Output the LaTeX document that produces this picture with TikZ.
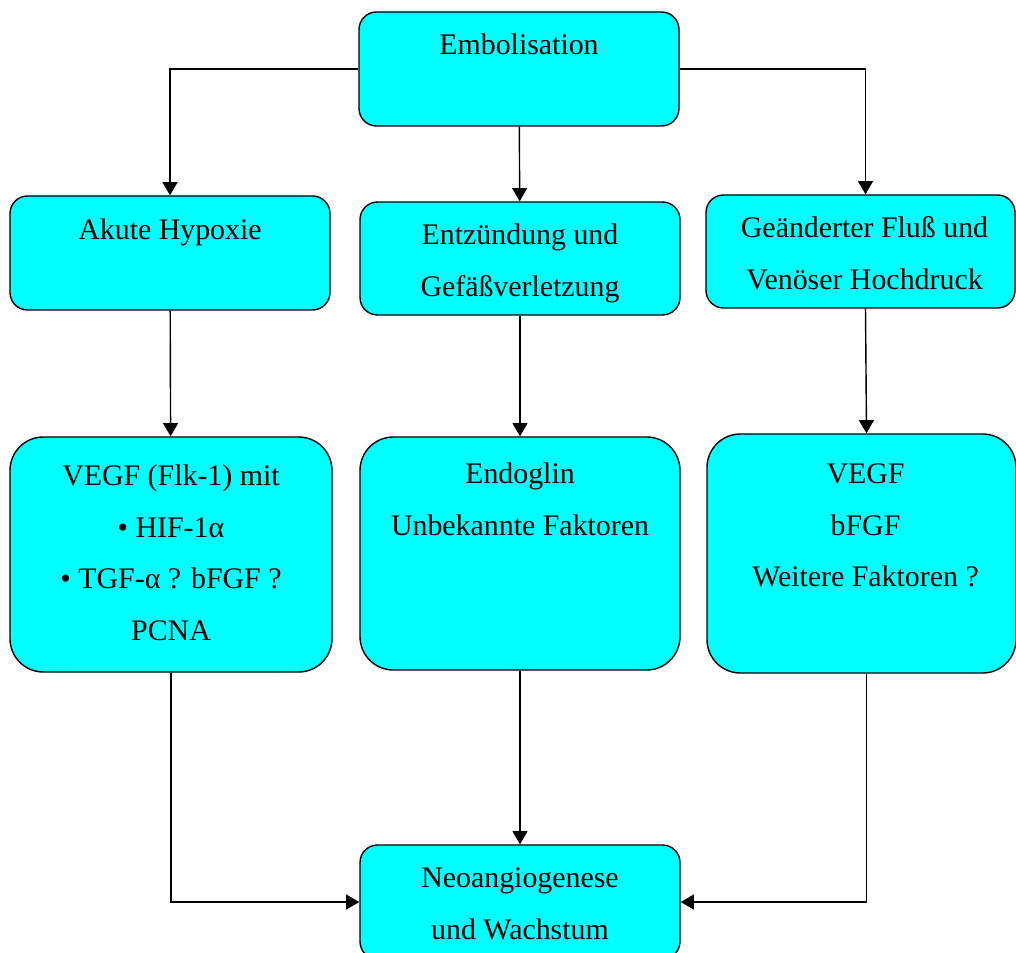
\documentclass[tikz,border=0pt]{standalone}
\usepackage{fontspec}
\setmainfont{Liberation Serif}
\usetikzlibrary{arrows.meta}
\definecolor{boxcyan}{RGB}{0,255,255}

\begin{document}
\begin{tikzpicture}
[x=0.02cm,y=-0.02cm,
  boxdecorate/.style={shape=rectangle,draw,line width=0.8pt,fill=boxcyan,inner sep=0pt},%
  textdecorate/.style={anchor=base,inner sep=0pt,font=\fontsize{17}{29.5}\selectfont},%
  arrowdecorate/.style={-{Triangle[length=7.5pt,width=8.5pt]},line width=0.8pt}]
\useasboundingbox (0,0) rectangle (1016,952);
\clip (0,0) rectangle (1016,952);
%% boxes
\foreach \nodename/\x/\y/\w/\h/\r in {emb/519/69/320/114/10pt,
  hyp/170/253/320/114/10pt, ent/520/258.5/320/113/10pt,
  flu/860.5/251.5/309/113/10pt, vegfl/171/554.5/322/235/19pt,
  endo/520/553.5/320/233/19pt, vegfr/861.5/553.5/309/239/19pt,
  neo/520/902/320/114/10pt}
{
  \node (\nodename) at (\x,\y) [boxdecorate,rounded corners=\r,
    minimum width=\w*0.02cm,minimum height=\h*0.02cm] {};
}
%% texts
\foreach \nodename/\dx/\dy/\boxtext in {emb/0/43/Embolisation,
  hyp/0/44/Akute Hypoxie, ent/0/43/{Entzündung und\\Gefäßverletzung},
  flu/4/43/{Geänderter Fluß und\\Venöser Hochdruck},
  vegfl/0/49/{VEGF (Flk-1) mit\\• HIF-1α\\• TGF-α ? bFGF ?\\PCNA},
  endo/0/47/{Endoglin\\Unbekannte Faktoren},
  vegfr/4/50/{VEGF\\bFGF\\Weitere Faktoren ?},
  neo/0/43/{Neoangiogenese\\und Wachstum}}
{
  \node [textdecorate,shift={(\dx,\dy)}] at (\nodename.north)
    {\begin{tabular}[t]{@{}c@{}}\boxtext\end{tabular}};
}
%% arrows
\draw [arrowdecorate] (emb.west) -| (hyp.north);
\draw [arrowdecorate] (emb.east) -| ([xshift=0.1cm]flu.north);
\path
\foreach \startnode/\endnode in {emb/ent, hyp/vegfl, ent/endo, endo/neo} {
  (\startnode) edge[arrowdecorate] (\endnode)
};
\draw [arrowdecorate] ([xshift=0.1cm]flu.south) -- ([xshift=0.1cm]vegfr.north);
\draw [arrowdecorate] (vegfl.south) |- (neo.west);
\draw [arrowdecorate] ([xshift=0.1cm]vegfr.south) |- (neo.east);
\end{tikzpicture}
\end{document}
